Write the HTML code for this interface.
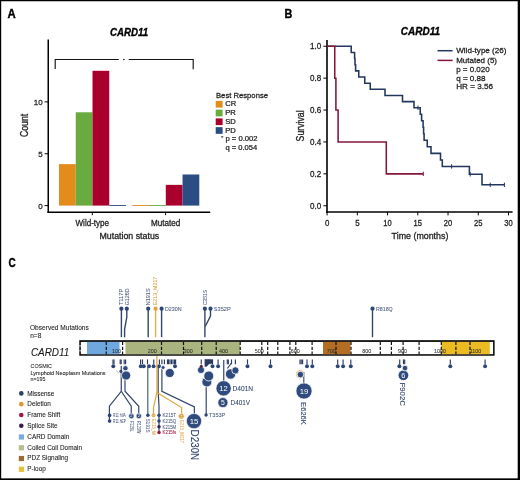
<!DOCTYPE html>
<html><head><meta charset="utf-8"><style>
html,body{margin:0;padding:0;background:#fff;}
svg{display:block;font-family:"Liberation Sans",sans-serif;will-change:transform;}
</style></head><body>
<svg width="520" height="480" viewBox="0 0 520 480">
<rect x="0" y="0" width="520" height="480" fill="#000"/>
<rect x="1.2" y="1.25" width="516.5" height="477.1" fill="#fff"/>
<text x="7.5" y="17.6" font-size="12" font-weight="bold" font-style="normal" fill="#000" text-anchor="start" stroke="#000" stroke-width="0.384" textLength="8.2" lengthAdjust="spacingAndGlyphs">A</text>
<text x="110" y="35.6" font-size="10.2" font-weight="bold" font-style="italic" fill="#000" text-anchor="start" stroke="#000" stroke-width="0.326" textLength="38.2" lengthAdjust="spacingAndGlyphs">CARD11</text>
<line x1="48.25" y1="39.5" x2="48.25" y2="213.0" stroke="#000" stroke-width="1.5" />
<line x1="47.5" y1="212.2" x2="210.2" y2="212.2" stroke="#000" stroke-width="1.5" />
<line x1="44.6" y1="205.6" x2="48.25" y2="205.6" stroke="#000" stroke-width="1.0" />
<text x="42.6" y="208.5" font-size="8" font-weight="normal" font-style="normal" fill="#222" text-anchor="end" stroke="#222" stroke-width="0.256">0</text>
<line x1="44.6" y1="153.75" x2="48.25" y2="153.75" stroke="#000" stroke-width="1.0" />
<text x="42.6" y="156.65" font-size="8" font-weight="normal" font-style="normal" fill="#222" text-anchor="end" stroke="#222" stroke-width="0.256">5</text>
<line x1="44.6" y1="101.9" x2="48.25" y2="101.9" stroke="#000" stroke-width="1.0" />
<text x="42.6" y="104.80000000000001" font-size="8" font-weight="normal" font-style="normal" fill="#222" text-anchor="end" stroke="#222" stroke-width="0.256">10</text>
<line x1="92.3" y1="212.2" x2="92.3" y2="215.2" stroke="#000" stroke-width="1.0" />
<line x1="165.6" y1="212.2" x2="165.6" y2="215.2" stroke="#000" stroke-width="1.0" />
<text x="92.3" y="226" font-size="8.8" font-weight="normal" font-style="normal" fill="#222" text-anchor="middle" stroke="#222" stroke-width="0.282" textLength="33.6" lengthAdjust="spacingAndGlyphs">Wild-type</text>
<text x="165.6" y="226" font-size="8.8" font-weight="normal" font-style="normal" fill="#222" text-anchor="middle" stroke="#222" stroke-width="0.282" textLength="29.4" lengthAdjust="spacingAndGlyphs">Mutated</text>
<text x="129.35" y="238.8" font-size="9.6" font-weight="normal" font-style="normal" fill="#222" text-anchor="middle" stroke="#222" stroke-width="0.307" textLength="59.7" lengthAdjust="spacingAndGlyphs">Mutation status</text>
<text transform="translate(27.6,125.4) rotate(-90)" x="0" y="0" font-size="10.2" font-weight="normal" font-style="normal" fill="#222" text-anchor="middle" stroke="#222" stroke-width="0.326" textLength="23.4" lengthAdjust="spacingAndGlyphs">Count</text>
<rect x="59.0" y="164.12" width="16.75" height="41.48" fill="#e38c1c" />
<rect x="75.75" y="112.27" width="16.75" height="93.33" fill="#6aab3f" />
<rect x="92.5" y="70.78999999999999" width="16.75" height="134.81" fill="#a9002d" />
<rect x="109.25" y="205.0" width="16.75" height="0.9" fill="#2c4c84" />
<rect x="132.3" y="205.0" width="16.75" height="0.9" fill="#e38c1c" />
<rect x="149.05" y="205.0" width="16.75" height="0.9" fill="#6aab3f" />
<rect x="165.8" y="184.85999999999999" width="16.75" height="20.74" fill="#a9002d" />
<rect x="182.55" y="174.49" width="16.75" height="31.11" fill="#2c4c84" />
<path d="M55.2,69 V59.5 H118.8 M128.7,59.5 H193.2 V69.3" stroke="#111" stroke-width="1.15" fill="none" />
<circle cx="123.9" cy="59.4" r="0.75" fill="#000"/>
<text x="216" y="98.2" font-size="8" font-weight="normal" font-style="normal" fill="#222" text-anchor="start" stroke="#222" stroke-width="0.256" textLength="52" lengthAdjust="spacingAndGlyphs">Best Response</text>
<rect x="215.7" y="100.9" width="6.9" height="6.7" fill="#e38c1c" />
<text x="225.3" y="106.30000000000001" font-size="7.6" font-weight="normal" font-style="normal" fill="#222" text-anchor="start" stroke="#222" stroke-width="0.243">CR</text>
<rect x="215.7" y="109.65" width="6.9" height="6.7" fill="#6aab3f" />
<text x="225.3" y="115.05000000000001" font-size="7.6" font-weight="normal" font-style="normal" fill="#222" text-anchor="start" stroke="#222" stroke-width="0.243">PR</text>
<rect x="215.7" y="118.4" width="6.9" height="6.7" fill="#a9002d" />
<text x="225.3" y="123.80000000000001" font-size="7.6" font-weight="normal" font-style="normal" fill="#222" text-anchor="start" stroke="#222" stroke-width="0.243">SD</text>
<rect x="215.7" y="127.15" width="6.9" height="6.7" fill="#2c4c84" />
<text x="225.3" y="132.55" font-size="7.6" font-weight="normal" font-style="normal" fill="#222" text-anchor="start" stroke="#222" stroke-width="0.243">PD</text>
<text x="221.0" y="140.0" font-size="6" font-weight="normal" font-style="normal" fill="#222" text-anchor="start" stroke="#222" stroke-width="0.072">*</text>
<text x="225.4" y="140.6" font-size="7.6" font-weight="normal" font-style="normal" fill="#222" text-anchor="start" stroke="#222" stroke-width="0.243" textLength="32.2" lengthAdjust="spacingAndGlyphs">p = 0.002</text>
<text x="225.4" y="149.5" font-size="7.6" font-weight="normal" font-style="normal" fill="#222" text-anchor="start" stroke="#222" stroke-width="0.243" textLength="31.7" lengthAdjust="spacingAndGlyphs">q = 0.054</text>
<text x="284.4" y="17.6" font-size="12" font-weight="bold" font-style="normal" fill="#000" text-anchor="start" stroke="#000" stroke-width="0.384" textLength="7.8" lengthAdjust="spacingAndGlyphs">B</text>
<text x="400.8" y="35.3" font-size="10.2" font-weight="bold" font-style="italic" fill="#000" text-anchor="start" stroke="#000" stroke-width="0.326" textLength="39.2" lengthAdjust="spacingAndGlyphs">CARD11</text>
<line x1="327.0" y1="40.0" x2="327.0" y2="212.9" stroke="#000" stroke-width="1.6" />
<line x1="326.2" y1="212.1" x2="512.6" y2="212.1" stroke="#000" stroke-width="1.5" />
<line x1="323.4" y1="205.75" x2="327" y2="205.75" stroke="#000" stroke-width="1.0" />
<text x="321.3" y="208.85" font-size="8.6" font-weight="normal" font-style="normal" fill="#222" text-anchor="end" stroke="#222" stroke-width="0.275" textLength="11.2" lengthAdjust="spacingAndGlyphs">0.0</text>
<line x1="323.4" y1="173.85" x2="327" y2="173.85" stroke="#000" stroke-width="1.0" />
<text x="321.3" y="176.95" font-size="8.6" font-weight="normal" font-style="normal" fill="#222" text-anchor="end" stroke="#222" stroke-width="0.275" textLength="11.2" lengthAdjust="spacingAndGlyphs">0.2</text>
<line x1="323.4" y1="141.95" x2="327" y2="141.95" stroke="#000" stroke-width="1.0" />
<text x="321.3" y="145.04999999999998" font-size="8.6" font-weight="normal" font-style="normal" fill="#222" text-anchor="end" stroke="#222" stroke-width="0.275" textLength="11.2" lengthAdjust="spacingAndGlyphs">0.4</text>
<line x1="323.4" y1="110.04999999999998" x2="327" y2="110.04999999999998" stroke="#000" stroke-width="1.0" />
<text x="321.3" y="113.14999999999998" font-size="8.6" font-weight="normal" font-style="normal" fill="#222" text-anchor="end" stroke="#222" stroke-width="0.275" textLength="11.2" lengthAdjust="spacingAndGlyphs">0.6</text>
<line x1="323.4" y1="78.14999999999999" x2="327" y2="78.14999999999999" stroke="#000" stroke-width="1.0" />
<text x="321.3" y="81.24999999999999" font-size="8.6" font-weight="normal" font-style="normal" fill="#222" text-anchor="end" stroke="#222" stroke-width="0.275" textLength="11.2" lengthAdjust="spacingAndGlyphs">0.8</text>
<line x1="323.4" y1="46.25" x2="327" y2="46.25" stroke="#000" stroke-width="1.0" />
<text x="321.3" y="49.35" font-size="8.6" font-weight="normal" font-style="normal" fill="#222" text-anchor="end" stroke="#222" stroke-width="0.275" textLength="11.2" lengthAdjust="spacingAndGlyphs">1.0</text>
<line x1="327.1" y1="212.1" x2="327.1" y2="215.4" stroke="#000" stroke-width="1.0" />
<text x="327.1" y="225.9" font-size="8.6" font-weight="normal" font-style="normal" fill="#222" text-anchor="middle" stroke="#222" stroke-width="0.275" textLength="4.4" lengthAdjust="spacingAndGlyphs">0</text>
<line x1="357.33500000000004" y1="212.1" x2="357.33500000000004" y2="215.4" stroke="#000" stroke-width="1.0" />
<text x="357.33500000000004" y="225.9" font-size="8.6" font-weight="normal" font-style="normal" fill="#222" text-anchor="middle" stroke="#222" stroke-width="0.275" textLength="4.4" lengthAdjust="spacingAndGlyphs">5</text>
<line x1="387.57000000000005" y1="212.1" x2="387.57000000000005" y2="215.4" stroke="#000" stroke-width="1.0" />
<text x="387.57000000000005" y="225.9" font-size="8.6" font-weight="normal" font-style="normal" fill="#222" text-anchor="middle" stroke="#222" stroke-width="0.275" textLength="8.4" lengthAdjust="spacingAndGlyphs">10</text>
<line x1="417.805" y1="212.1" x2="417.805" y2="215.4" stroke="#000" stroke-width="1.0" />
<text x="417.805" y="225.9" font-size="8.6" font-weight="normal" font-style="normal" fill="#222" text-anchor="middle" stroke="#222" stroke-width="0.275" textLength="8.4" lengthAdjust="spacingAndGlyphs">15</text>
<line x1="448.04" y1="212.1" x2="448.04" y2="215.4" stroke="#000" stroke-width="1.0" />
<text x="448.04" y="225.9" font-size="8.6" font-weight="normal" font-style="normal" fill="#222" text-anchor="middle" stroke="#222" stroke-width="0.275" textLength="8.4" lengthAdjust="spacingAndGlyphs">20</text>
<line x1="478.275" y1="212.1" x2="478.275" y2="215.4" stroke="#000" stroke-width="1.0" />
<text x="478.275" y="225.9" font-size="8.6" font-weight="normal" font-style="normal" fill="#222" text-anchor="middle" stroke="#222" stroke-width="0.275" textLength="8.4" lengthAdjust="spacingAndGlyphs">25</text>
<line x1="508.51" y1="212.1" x2="508.51" y2="215.4" stroke="#000" stroke-width="1.0" />
<text x="508.51" y="225.9" font-size="8.6" font-weight="normal" font-style="normal" fill="#222" text-anchor="middle" stroke="#222" stroke-width="0.275" textLength="8.4" lengthAdjust="spacingAndGlyphs">30</text>
<text x="420" y="238.8" font-size="9.8" font-weight="normal" font-style="normal" fill="#222" text-anchor="middle" stroke="#222" stroke-width="0.314" textLength="56.8" lengthAdjust="spacingAndGlyphs">Time (months)</text>
<text transform="translate(304,125.9) rotate(-90)" x="0" y="0" font-size="10.0" font-weight="normal" font-style="normal" fill="#222" text-anchor="middle" stroke="#222" stroke-width="0.320" textLength="31.0" lengthAdjust="spacingAndGlyphs">Survival</text>
<path d="M327.00,46.25 L351.25,46.25 L351.25,52.40 L354.60,52.40 L354.60,58.55 L355.00,58.55 L355.00,64.70 L355.60,64.70 L355.60,70.85 L358.75,70.85 L358.75,77.00 L364.75,77.00 L364.75,83.15 L370.25,83.15 L370.25,89.30 L385.00,89.30 L385.00,95.45 L402.50,95.45 L402.50,101.60 L414.00,101.60 L414.00,107.75 L420.25,107.75 L420.25,114.30 L421.60,114.30 L421.60,120.80 L423.10,120.80 L423.10,127.30 L423.60,127.30 L423.60,133.80 L424.10,133.80 L424.10,140.30 L427.25,140.30 L427.25,146.80 L431.00,146.80 L431.00,153.35 L440.50,153.35 L440.50,159.90 L442.30,159.90 L442.30,166.45 L469.40,166.45 L469.40,174.30 L482.00,174.30 L482.00,184.80 L504.40,184.80" stroke="#22365f" stroke-width="1.55" fill="none" stroke-linejoin="miter"/>
<line x1="418.0" y1="105.55" x2="418.0" y2="109.95" stroke="#22365f" stroke-width="1.0" />
<line x1="451.6" y1="164.25" x2="451.6" y2="168.64999999999998" stroke="#22365f" stroke-width="1.0" />
<line x1="470.2" y1="172.10000000000002" x2="470.2" y2="176.5" stroke="#22365f" stroke-width="1.0" />
<line x1="490.2" y1="182.60000000000002" x2="490.2" y2="187.0" stroke="#22365f" stroke-width="1.0" />
<line x1="504.4" y1="182.60000000000002" x2="504.4" y2="187.0" stroke="#22365f" stroke-width="1.0" />
<path d="M327.00,46.25 L334.75,46.25 L334.75,78.15 L335.90,78.15 L335.90,110.05 L338.10,110.05 L338.10,141.95 L386.30,141.95 L386.30,173.85 L423.30,173.85" stroke="#861638" stroke-width="1.55" fill="none" />
<line x1="423.3" y1="171.65" x2="423.3" y2="176.04999999999998" stroke="#861638" stroke-width="1.0" />
<line x1="437.5" y1="50.7" x2="452.6" y2="50.7" stroke="#22365f" stroke-width="1.5" />
<line x1="437.5" y1="60.4" x2="452.6" y2="60.4" stroke="#861638" stroke-width="1.5" />
<text x="456.2" y="53.3" font-size="8" font-weight="normal" font-style="normal" fill="#222" text-anchor="start" stroke="#222" stroke-width="0.256" textLength="50.3" lengthAdjust="spacingAndGlyphs">Wild-type (26)</text>
<text x="456.2" y="62.6" font-size="8" font-weight="normal" font-style="normal" fill="#222" text-anchor="start" stroke="#222" stroke-width="0.256" textLength="40.8" lengthAdjust="spacingAndGlyphs">Mutated (5)</text>
<text x="456.2" y="71.7" font-size="8" font-weight="normal" font-style="normal" fill="#222" text-anchor="start" stroke="#222" stroke-width="0.256" textLength="33.5" lengthAdjust="spacingAndGlyphs">p = 0.020</text>
<text x="456.2" y="80.6" font-size="8" font-weight="normal" font-style="normal" fill="#222" text-anchor="start" stroke="#222" stroke-width="0.256" textLength="29.4" lengthAdjust="spacingAndGlyphs">q = 0.88</text>
<text x="456.2" y="89.3" font-size="8" font-weight="normal" font-style="normal" fill="#222" text-anchor="start" stroke="#222" stroke-width="0.256" textLength="36.8" lengthAdjust="spacingAndGlyphs">HR = 3.56</text>
<text x="8.6" y="267.2" font-size="12" font-weight="bold" font-style="normal" fill="#000" text-anchor="start" stroke="#000" stroke-width="0.384" textLength="7.2" lengthAdjust="spacingAndGlyphs">C</text>
<text x="30" y="330" font-size="6.6" font-weight="normal" font-style="normal" fill="#222" text-anchor="start" stroke="#222" stroke-width="0.079" textLength="58.8" lengthAdjust="spacingAndGlyphs">Observed Mutations</text>
<text x="30.2" y="338" font-size="6.6" font-weight="normal" font-style="normal" fill="#222" text-anchor="start" stroke="#222" stroke-width="0.079">n=8</text>
<text x="30.9" y="355.9" font-size="10.6" font-weight="normal" font-style="italic" fill="#1a1a1a" text-anchor="start" stroke="#1a1a1a" stroke-width="0.080" textLength="38.4" lengthAdjust="spacingAndGlyphs">CARD11</text>
<text x="30.5" y="368" font-size="5.3" font-weight="normal" font-style="normal" fill="#222" text-anchor="start" stroke="#222" stroke-width="0.064" textLength="21.5" lengthAdjust="spacingAndGlyphs">COSMIC</text>
<text x="30.5" y="374.9" font-size="5.5" font-weight="normal" font-style="normal" fill="#222" text-anchor="start" stroke="#222" stroke-width="0.066" textLength="75" lengthAdjust="spacingAndGlyphs">Lymphoid Neoplasm Mutations</text>
<text x="30.5" y="381" font-size="5.3" font-weight="normal" font-style="normal" fill="#222" text-anchor="start" stroke="#222" stroke-width="0.064" textLength="14.9" lengthAdjust="spacingAndGlyphs">n=195</text>
<circle cx="21.3" cy="393.4" r="2.3" fill="#2c3f6b"/>
<text x="27.3" y="395.7" font-size="6.4" font-weight="normal" font-style="normal" fill="#222" text-anchor="start" stroke="#222" stroke-width="0.077">Missense</text>
<circle cx="21.3" cy="404.16999999999996" r="2.3" fill="#e0982c"/>
<text x="27.3" y="406.46999999999997" font-size="6.4" font-weight="normal" font-style="normal" fill="#222" text-anchor="start" stroke="#222" stroke-width="0.077">Deletion</text>
<circle cx="21.3" cy="414.94" r="2.3" fill="#a0183f"/>
<text x="27.3" y="417.24" font-size="6.4" font-weight="normal" font-style="normal" fill="#222" text-anchor="start" stroke="#222" stroke-width="0.077">Frame Shift</text>
<circle cx="21.3" cy="425.71" r="2.3" fill="#3a1f48"/>
<text x="27.3" y="428.01" font-size="6.4" font-weight="normal" font-style="normal" fill="#222" text-anchor="start" stroke="#222" stroke-width="0.077">Splice Site</text>
<rect x="18.8" y="434.37999999999994" width="5.2" height="5.2" fill="#77acdf" />
<text x="27.3" y="438.78" font-size="6.4" font-weight="normal" font-style="normal" fill="#222" text-anchor="start" stroke="#222" stroke-width="0.077">CARD Domain</text>
<rect x="18.8" y="445.15" width="5.2" height="5.2" fill="#b6bd91" />
<text x="27.3" y="449.55" font-size="6.4" font-weight="normal" font-style="normal" fill="#222" text-anchor="start" stroke="#222" stroke-width="0.077">Coiled Coil Domain</text>
<rect x="18.8" y="455.91999999999996" width="5.2" height="5.2" fill="#9b6c2d" />
<text x="27.3" y="460.32" font-size="6.4" font-weight="normal" font-style="normal" fill="#222" text-anchor="start" stroke="#222" stroke-width="0.077">PDZ Signaling</text>
<rect x="18.8" y="466.68999999999994" width="5.2" height="5.2" fill="#e6c23a" />
<text x="27.3" y="471.09" font-size="6.4" font-weight="normal" font-style="normal" fill="#222" text-anchor="start" stroke="#222" stroke-width="0.077">P-loop</text>
<rect x="79.3" y="340.2" width="415.3" height="15.5" fill="#000" />
<rect x="80.8" y="341.9" width="412.3" height="12.3" fill="#fff" />
<rect x="87.0" y="341.9" width="32.5" height="12.300000000000011" fill="#6ea8de" />
<rect x="125.5" y="341.9" width="114.7" height="12.300000000000011" fill="#a9b47e" />
<rect x="323.0" y="341.9" width="27.5" height="12.300000000000011" fill="#b36e24" />
<rect x="441.2" y="341.9" width="48.6" height="12.300000000000011" fill="#ecba22" />
<line x1="80.05" y1="341.9" x2="80.05" y2="354.2" stroke="#fff" stroke-width="1.0" stroke-dasharray="1.6 3.2" stroke-dashoffset="-3.2"/>
<line x1="106.25" y1="341.9" x2="106.25" y2="354.2" stroke="#111" stroke-width="1.2" stroke-dasharray="3.2 1.6"/>
<line x1="122.6" y1="341.9" x2="122.6" y2="354.2" stroke="#111" stroke-width="1.2" stroke-dasharray="3.2 1.6"/>
<line x1="161.5" y1="341.9" x2="161.5" y2="354.2" stroke="#111" stroke-width="1.2" stroke-dasharray="3.2 1.6"/>
<line x1="183.5" y1="341.9" x2="183.5" y2="354.2" stroke="#111" stroke-width="1.2" stroke-dasharray="3.2 1.6"/>
<line x1="201.7" y1="341.9" x2="201.7" y2="354.2" stroke="#111" stroke-width="1.2" stroke-dasharray="3.2 1.6"/>
<line x1="216.2" y1="341.9" x2="216.2" y2="354.2" stroke="#111" stroke-width="1.2" stroke-dasharray="3.2 1.6"/>
<line x1="240.2" y1="341.9" x2="240.2" y2="354.2" stroke="#111" stroke-width="1.2" stroke-dasharray="3.2 1.6"/>
<line x1="261.8" y1="341.9" x2="261.8" y2="354.2" stroke="#111" stroke-width="1.2" stroke-dasharray="3.2 1.6"/>
<line x1="267.7" y1="341.9" x2="267.7" y2="354.2" stroke="#111" stroke-width="1.2" stroke-dasharray="3.2 1.6"/>
<line x1="277.8" y1="341.9" x2="277.8" y2="354.2" stroke="#111" stroke-width="1.2" stroke-dasharray="3.2 1.6"/>
<line x1="289.9" y1="341.9" x2="289.9" y2="354.2" stroke="#111" stroke-width="1.2" stroke-dasharray="3.2 1.6"/>
<line x1="295.8" y1="341.9" x2="295.8" y2="354.2" stroke="#111" stroke-width="1.2" stroke-dasharray="3.2 1.6"/>
<line x1="312.1" y1="341.9" x2="312.1" y2="354.2" stroke="#111" stroke-width="1.2" stroke-dasharray="3.2 1.6"/>
<line x1="336.0" y1="341.9" x2="336.0" y2="354.2" stroke="#111" stroke-width="1.2" stroke-dasharray="3.2 1.6"/>
<line x1="351.0" y1="341.9" x2="351.0" y2="354.2" stroke="#111" stroke-width="1.2" stroke-dasharray="3.2 1.6"/>
<line x1="380.3" y1="341.9" x2="380.3" y2="354.2" stroke="#111" stroke-width="1.2" stroke-dasharray="3.2 1.6"/>
<line x1="391.4" y1="341.9" x2="391.4" y2="354.2" stroke="#111" stroke-width="1.2" stroke-dasharray="3.2 1.6"/>
<line x1="403.1" y1="341.9" x2="403.1" y2="354.2" stroke="#111" stroke-width="1.2" stroke-dasharray="3.2 1.6"/>
<line x1="419.1" y1="341.9" x2="419.1" y2="354.2" stroke="#111" stroke-width="1.2" stroke-dasharray="3.2 1.6"/>
<line x1="441.3" y1="341.9" x2="441.3" y2="354.2" stroke="#111" stroke-width="1.2" stroke-dasharray="3.2 1.6"/>
<line x1="455.9" y1="341.9" x2="455.9" y2="354.2" stroke="#111" stroke-width="1.2" stroke-dasharray="3.2 1.6"/>
<line x1="470.0" y1="341.9" x2="470.0" y2="354.2" stroke="#111" stroke-width="1.2" stroke-dasharray="3.2 1.6"/>
<text x="116.4" y="352.8" font-size="5.4" font-weight="normal" font-style="normal" fill="#333" text-anchor="middle" stroke="#333" stroke-width="0.065">100</text>
<text x="152.3" y="352.8" font-size="5.4" font-weight="normal" font-style="normal" fill="#333" text-anchor="middle" stroke="#333" stroke-width="0.065">200</text>
<text x="188.2" y="352.8" font-size="5.4" font-weight="normal" font-style="normal" fill="#333" text-anchor="middle" stroke="#333" stroke-width="0.065">300</text>
<text x="223.5" y="352.8" font-size="5.4" font-weight="normal" font-style="normal" fill="#333" text-anchor="middle" stroke="#333" stroke-width="0.065">400</text>
<text x="259.3" y="352.8" font-size="5.4" font-weight="normal" font-style="normal" fill="#333" text-anchor="middle" stroke="#333" stroke-width="0.065">500</text>
<text x="295.2" y="352.8" font-size="5.4" font-weight="normal" font-style="normal" fill="#333" text-anchor="middle" stroke="#333" stroke-width="0.065">600</text>
<text x="331.3" y="352.8" font-size="5.4" font-weight="normal" font-style="normal" fill="#333" text-anchor="middle" stroke="#333" stroke-width="0.065">700</text>
<text x="366.8" y="352.8" font-size="5.4" font-weight="normal" font-style="normal" fill="#333" text-anchor="middle" stroke="#333" stroke-width="0.065">800</text>
<text x="402.6" y="352.8" font-size="5.4" font-weight="normal" font-style="normal" fill="#333" text-anchor="middle" stroke="#333" stroke-width="0.065">900</text>
<text x="439.9" y="352.8" font-size="5.4" font-weight="normal" font-style="normal" fill="#333" text-anchor="middle" stroke="#333" stroke-width="0.065">1000</text>
<text x="475.5" y="352.8" font-size="5.4" font-weight="normal" font-style="normal" fill="#333" text-anchor="middle" stroke="#333" stroke-width="0.065">1100</text>
<line x1="121.4" y1="308.7" x2="121.4" y2="337.2" stroke="#34466b" stroke-width="1.4" />
<circle cx="121.4" cy="308.7" r="2.1" fill="#2b4676"/>
<path d="M126.8,308.7 V317.3 L124.6,329 V337.2" stroke="#34466b" stroke-width="1.4" fill="none" />
<circle cx="126.8" cy="308.7" r="2.1" fill="#2b4676"/>
<line x1="148.2" y1="308.7" x2="148.2" y2="337.2" stroke="#34466b" stroke-width="1.4" />
<circle cx="148.2" cy="308.7" r="2.1" fill="#2b4676"/>
<line x1="155.6" y1="308.7" x2="155.6" y2="337.2" stroke="#e6ac48" stroke-width="1.4" />
<circle cx="155.6" cy="308.7" r="2.1" fill="#e0a040"/>
<line x1="161.6" y1="308.7" x2="161.6" y2="337.2" stroke="#34466b" stroke-width="1.4" />
<circle cx="161.6" cy="308.7" r="2.1" fill="#2b4676"/>
<line x1="204.9" y1="308.7" x2="204.9" y2="337.2" stroke="#34466b" stroke-width="1.4" />
<circle cx="204.9" cy="308.7" r="2.1" fill="#2b4676"/>
<path d="M210.5,308.7 V316 L205.2,326.5" stroke="#34466b" stroke-width="1.4" fill="none" />
<circle cx="210.5" cy="308.7" r="2.1" fill="#2b4676"/>
<line x1="372.5" y1="308.7" x2="372.5" y2="337.2" stroke="#34466b" stroke-width="1.4" />
<circle cx="372.5" cy="308.7" r="2.1" fill="#2b4676"/>
<text transform="translate(123.2,305.3) rotate(-90)" x="0" y="0" font-size="5.6" font-weight="normal" font-style="normal" fill="#4a5a7c" text-anchor="start" stroke="#4a5a7c" stroke-width="0.067" textLength="16.7" lengthAdjust="spacingAndGlyphs">T117P</text>
<text transform="translate(128.6,305.3) rotate(-90)" x="0" y="0" font-size="5.6" font-weight="normal" font-style="normal" fill="#4a5a7c" text-anchor="start" stroke="#4a5a7c" stroke-width="0.067" textLength="16.9" lengthAdjust="spacingAndGlyphs">G126D</text>
<text transform="translate(150.0,305.3) rotate(-90)" x="0" y="0" font-size="5.6" font-weight="normal" font-style="normal" fill="#4a5a7c" text-anchor="start" stroke="#4a5a7c" stroke-width="0.067" textLength="16.9" lengthAdjust="spacingAndGlyphs">N191S</text>
<text transform="translate(157.4,305.3) rotate(-90)" x="0" y="0" font-size="5.6" font-weight="normal" font-style="normal" fill="#d9a040" text-anchor="start" stroke="#d9a040" stroke-width="0.067" textLength="28.6" lengthAdjust="spacingAndGlyphs">E213_M217</text>
<text transform="translate(206.7,305.3) rotate(-90)" x="0" y="0" font-size="5.6" font-weight="normal" font-style="normal" fill="#4a5a7c" text-anchor="start" stroke="#4a5a7c" stroke-width="0.067" textLength="15.4" lengthAdjust="spacingAndGlyphs">C351S</text>
<text x="164.9" y="310.7" font-size="5.6" font-weight="normal" font-style="normal" fill="#4a5a7c" text-anchor="start" stroke="#4a5a7c" stroke-width="0.067" textLength="16.6" lengthAdjust="spacingAndGlyphs">D230N</text>
<text x="213.8" y="310.7" font-size="5.6" font-weight="normal" font-style="normal" fill="#4a5a7c" text-anchor="start" stroke="#4a5a7c" stroke-width="0.067" textLength="17.0" lengthAdjust="spacingAndGlyphs">S352P</text>
<text x="376.0" y="310.7" font-size="5.6" font-weight="normal" font-style="normal" fill="#4a5a7c" text-anchor="start" stroke="#4a5a7c" stroke-width="0.067" textLength="16.7" lengthAdjust="spacingAndGlyphs">R818Q</text>
<line x1="113.0" y1="359.4" x2="113.0" y2="364.2" stroke="#2b3a60" stroke-width="1.15" />
<line x1="114.0" y1="359.4" x2="114.0" y2="364.2" stroke="#2b3a60" stroke-width="1.15" />
<line x1="120.2" y1="359.4" x2="120.2" y2="364.2" stroke="#2b3a60" stroke-width="1.15" />
<line x1="121.2" y1="359.4" x2="121.2" y2="364.2" stroke="#2b3a60" stroke-width="1.15" />
<line x1="124.2" y1="359.4" x2="124.2" y2="364.2" stroke="#2b3a60" stroke-width="1.15" />
<line x1="125.6" y1="359.4" x2="125.6" y2="364.2" stroke="#2b3a60" stroke-width="1.15" />
<line x1="140.6" y1="359.4" x2="140.6" y2="364.2" stroke="#2b3a60" stroke-width="1.15" />
<line x1="142.5" y1="359.4" x2="142.5" y2="364.2" stroke="#2b3a60" stroke-width="1.15" />
<line x1="147.5" y1="359.4" x2="147.5" y2="364.2" stroke="#2b3a60" stroke-width="1.15" />
<line x1="153.75" y1="359.4" x2="153.75" y2="364.2" stroke="#2b3a60" stroke-width="1.15" />
<line x1="159.4" y1="359.4" x2="159.4" y2="364.2" stroke="#2b3a60" stroke-width="1.15" />
<line x1="161.9" y1="359.4" x2="161.9" y2="364.2" stroke="#2b3a60" stroke-width="1.15" />
<line x1="164.4" y1="359.4" x2="164.4" y2="364.2" stroke="#2b3a60" stroke-width="1.15" />
<line x1="167.5" y1="359.4" x2="167.5" y2="364.2" stroke="#2b3a60" stroke-width="1.15" />
<line x1="168.5" y1="359.4" x2="168.5" y2="364.2" stroke="#2b3a60" stroke-width="1.15" />
<line x1="170.0" y1="359.4" x2="170.0" y2="364.2" stroke="#2b3a60" stroke-width="1.15" />
<line x1="171.5" y1="359.4" x2="171.5" y2="364.2" stroke="#2b3a60" stroke-width="1.15" />
<line x1="173.0" y1="359.4" x2="173.0" y2="364.2" stroke="#2b3a60" stroke-width="1.15" />
<line x1="174.5" y1="359.4" x2="174.5" y2="364.2" stroke="#2b3a60" stroke-width="1.15" />
<line x1="175.6" y1="359.4" x2="175.6" y2="364.2" stroke="#2b3a60" stroke-width="1.15" />
<line x1="201.25" y1="359.4" x2="201.25" y2="364.2" stroke="#2b3a60" stroke-width="1.15" />
<line x1="205.5" y1="359.4" x2="205.5" y2="364.2" stroke="#2b3a60" stroke-width="1.15" />
<line x1="207.0" y1="359.4" x2="207.0" y2="364.2" stroke="#2b3a60" stroke-width="1.15" />
<line x1="208.5" y1="359.4" x2="208.5" y2="364.2" stroke="#2b3a60" stroke-width="1.15" />
<line x1="210.0" y1="359.4" x2="210.0" y2="364.2" stroke="#2b3a60" stroke-width="1.15" />
<line x1="212.5" y1="359.4" x2="212.5" y2="364.2" stroke="#2b3a60" stroke-width="1.15" />
<line x1="218.1" y1="359.4" x2="218.1" y2="364.2" stroke="#2b3a60" stroke-width="1.15" />
<line x1="227.3" y1="359.4" x2="227.3" y2="364.2" stroke="#2b3a60" stroke-width="1.15" />
<line x1="228.3" y1="359.4" x2="228.3" y2="364.2" stroke="#2b3a60" stroke-width="1.15" />
<line x1="231.5" y1="359.4" x2="231.5" y2="364.2" stroke="#2b3a60" stroke-width="1.15" />
<line x1="235.4" y1="359.4" x2="235.4" y2="364.2" stroke="#2b3a60" stroke-width="1.15" />
<line x1="247.5" y1="359.4" x2="247.5" y2="364.2" stroke="#2b3a60" stroke-width="1.15" />
<line x1="270.5" y1="359.4" x2="270.5" y2="364.2" stroke="#2b3a60" stroke-width="1.15" />
<line x1="300.0" y1="359.4" x2="300.0" y2="364.2" stroke="#2b3a60" stroke-width="1.15" />
<line x1="301.2" y1="359.4" x2="301.2" y2="364.2" stroke="#2b3a60" stroke-width="1.15" />
<line x1="302.6" y1="359.4" x2="302.6" y2="364.2" stroke="#2b3a60" stroke-width="1.15" />
<line x1="307.0" y1="359.4" x2="307.0" y2="364.2" stroke="#2b3a60" stroke-width="1.15" />
<line x1="312.3" y1="359.4" x2="312.3" y2="364.2" stroke="#2b3a60" stroke-width="1.15" />
<line x1="337.7" y1="359.4" x2="337.7" y2="364.2" stroke="#2b3a60" stroke-width="1.15" />
<line x1="343.1" y1="359.4" x2="343.1" y2="364.2" stroke="#2b3a60" stroke-width="1.15" />
<line x1="350.8" y1="359.4" x2="350.8" y2="364.2" stroke="#2b3a60" stroke-width="1.15" />
<line x1="399.7" y1="359.4" x2="399.7" y2="364.2" stroke="#2b3a60" stroke-width="1.15" />
<line x1="403.5" y1="359.4" x2="403.5" y2="364.2" stroke="#2b3a60" stroke-width="1.15" />
<line x1="404.7" y1="359.4" x2="404.7" y2="364.2" stroke="#2b3a60" stroke-width="1.15" />
<line x1="450.3" y1="359.4" x2="450.3" y2="364.2" stroke="#2b3a60" stroke-width="1.15" />
<line x1="485.1" y1="359.4" x2="485.1" y2="364.2" stroke="#2b3a60" stroke-width="1.15" />
<circle cx="113.3" cy="366.2" r="1.95" fill="#2b4676"/>
<circle cx="140.8" cy="366.2" r="1.95" fill="#2b4676"/>
<circle cx="143.8" cy="366.2" r="1.95" fill="#2b4676"/>
<circle cx="149.0" cy="366.2" r="1.95" fill="#2b4676"/>
<circle cx="153.6" cy="366.2" r="1.95" fill="#2b4676"/>
<circle cx="159.0" cy="366.2" r="1.95" fill="#2b4676"/>
<circle cx="175.0" cy="366.2" r="1.95" fill="#2b4676"/>
<circle cx="212.5" cy="366.2" r="1.95" fill="#2b4676"/>
<circle cx="218.1" cy="366.2" r="1.95" fill="#2b4676"/>
<circle cx="247.5" cy="366.2" r="1.95" fill="#2b4676"/>
<circle cx="270.5" cy="366.2" r="1.95" fill="#2b4676"/>
<circle cx="307.0" cy="366.2" r="1.95" fill="#2b4676"/>
<circle cx="312.3" cy="366.2" r="1.95" fill="#2b4676"/>
<circle cx="337.7" cy="366.2" r="1.95" fill="#2b4676"/>
<circle cx="343.1" cy="366.2" r="1.95" fill="#2b4676"/>
<circle cx="350.8" cy="366.2" r="1.95" fill="#2b4676"/>
<circle cx="399.4" cy="366.2" r="1.95" fill="#2b4676"/>
<circle cx="450.3" cy="366.2" r="1.95" fill="#2b4676"/>
<circle cx="485.1" cy="366.2" r="1.95" fill="#2b4676"/>
<path d="M121.25,366 V391.25 L109.4,406.25 V421.1" stroke="#34466b" stroke-width="1.2" fill="none" />
<path d="M121.25,391.25 L131.25,406.25 V416" stroke="#34466b" stroke-width="1.2" fill="none" />
<path d="M125.0,376 V391.25 L138.75,406.25 V416" stroke="#34466b" stroke-width="1.2" fill="none" />
<line x1="147.8" y1="366" x2="147.8" y2="415.3" stroke="#4a5f82" stroke-width="1.2" />
<path d="M158.2,366 V392 L159.0,406 V432" stroke="#34466b" stroke-width="1.2" fill="none" />
<path d="M161.9,368 V391.25 L194.4,407 V414" stroke="#34466b" stroke-width="1.2" fill="none" />
<path d="M156.9,356 V392.5 L153.5,407.5 V415" stroke="#e3a444" stroke-width="1.2" fill="none" />
<path d="M156.9,392.5 L181.6,407.5 V415" stroke="#e3a444" stroke-width="1.2" fill="none" />
<line x1="206.2" y1="384" x2="206.2" y2="415" stroke="#34466b" stroke-width="1.2" />
<line x1="223.75" y1="360" x2="223.75" y2="382" stroke="#34466b" stroke-width="1.2" />
<path d="M204.8,359.4 H212.2 V363.5 H209.2 L206.8,366.5 H204.8 Z" stroke="#2b3a60" stroke-width="0.3" fill="#2b3a60" />
<line x1="303.8" y1="372" x2="303.8" y2="384" stroke="#34466b" stroke-width="1.1" />
<line x1="116.4" y1="370.3" x2="119.0" y2="373.6" stroke="#9aa3b5" stroke-width="0.7" />
<path d="M231.5,363 L227.3,368.5" stroke="#2b3a60" stroke-width="1.2" fill="none" />
<circle cx="120.9" cy="371.2" r="1.5" fill="#2b4676"/>
<circle cx="125.4" cy="368.3" r="2.7" fill="#2f4a7c" stroke="#fff" stroke-width="0.8"/>
<circle cx="126.1" cy="375.5" r="4.6" fill="#2f4a7c" stroke="#fff" stroke-width="0.8"/>
<circle cx="163.1" cy="367.5" r="2.0" fill="#2f4a7c" stroke="#fff" stroke-width="0.8"/>
<circle cx="169.75" cy="373.0" r="4.6" fill="#2f4a7c" stroke="#fff" stroke-width="0.8"/>
<circle cx="201.0" cy="370.0" r="3.6" fill="#2f4a7c" stroke="#fff" stroke-width="0.8"/>
<circle cx="201.25" cy="366.2" r="1.5" fill="#5a1f40"/>
<circle cx="206.9" cy="381.9" r="5.0" fill="#2f4a7c" stroke="#fff" stroke-width="0.8"/>
<circle cx="208.75" cy="376.0" r="5.0" fill="#2f4a7c" stroke="#fff" stroke-width="0.8"/>
<circle cx="230.6" cy="374.0" r="5.2" fill="#2f4a7c" stroke="#fff" stroke-width="0.8"/>
<circle cx="235.4" cy="370.4" r="3.6" fill="#2f4a7c" stroke="#fff" stroke-width="0.8"/>
<circle cx="300.0" cy="374.2" r="3.8" fill="none" stroke="#e8b860" stroke-width="0.8"/>
<circle cx="300.4" cy="374.6" r="3.3" fill="#2f4a7c" stroke="#fff" stroke-width="0.8"/>
<circle cx="403.4" cy="375.3" r="5.3" fill="#2f4a7c" stroke="#fff" stroke-width="0.8"/>
<circle cx="405.0" cy="368.1" r="2.8" fill="#2f4a7c" stroke="#fff" stroke-width="0.8"/>
<circle cx="399.4" cy="366.2" r="1.6" fill="#2b4676"/>
<circle cx="223.6" cy="388.3" r="7.6" fill="#2f4a7c" stroke="#fff" stroke-width="0.6"/>
<text x="223.6" y="391.036" font-size="7.6" font-weight="normal" font-style="normal" fill="#fff" text-anchor="middle">12</text>
<circle cx="222.9" cy="402.6" r="5.0" fill="#2f4a7c" stroke="#fff" stroke-width="0.6"/>
<text x="222.9" y="405.048" font-size="6.8" font-weight="normal" font-style="normal" fill="#fff" text-anchor="middle">5</text>
<circle cx="194.0" cy="421.1" r="7.6" fill="#2f4a7c" stroke="#fff" stroke-width="0.6"/>
<text x="194.0" y="423.908" font-size="7.8" font-weight="normal" font-style="normal" fill="#fff" text-anchor="middle">15</text>
<circle cx="304.0" cy="391.0" r="8.0" fill="#2f4a7c" stroke="#fff" stroke-width="0.6"/>
<text x="304.0" y="393.808" font-size="7.8" font-weight="normal" font-style="normal" fill="#fff" text-anchor="middle">19</text>
<text x="403.4" y="377.9" font-size="7.4" font-weight="normal" font-style="normal" fill="#fff" text-anchor="middle">6</text>
<text x="232.5" y="391.3" font-size="7.2" font-weight="normal" font-style="normal" fill="#34456e" text-anchor="start" stroke="#34456e" stroke-width="0.080" textLength="20.6" lengthAdjust="spacingAndGlyphs">D401N</text>
<text x="230.6" y="405.2" font-size="7.2" font-weight="normal" font-style="normal" fill="#34456e" text-anchor="start" stroke="#34456e" stroke-width="0.080" textLength="19.4" lengthAdjust="spacingAndGlyphs">D401V</text>
<text transform="translate(190.6,429.6) rotate(90)" x="0" y="0" font-size="11.6" font-weight="normal" font-style="normal" fill="#2c3f6b" text-anchor="start" stroke="#2c3f6b" stroke-width="0.100" textLength="30.6" lengthAdjust="spacingAndGlyphs">D230N</text>
<text transform="translate(301.2,402.2) rotate(90)" x="0" y="0" font-size="7.8" font-weight="normal" font-style="normal" fill="#34456e" text-anchor="start" stroke="#34456e" stroke-width="0.080" textLength="22.6" lengthAdjust="spacingAndGlyphs">E626K</text>
<text transform="translate(400.4,382.4) rotate(90)" x="0" y="0" font-size="8.0" font-weight="normal" font-style="normal" fill="#34456e" text-anchor="start" stroke="#34456e" stroke-width="0.080" textLength="23.6" lengthAdjust="spacingAndGlyphs">F902C</text>
<circle cx="206.1" cy="415.0" r="1.7" fill="#2b4676"/>
<text x="209.0" y="417.2" font-size="6.2" font-weight="normal" font-style="normal" fill="#4a5a7c" text-anchor="start" stroke="#4a5a7c" stroke-width="0.074" textLength="16.2" lengthAdjust="spacingAndGlyphs">T353P</text>
<circle cx="109.6" cy="415.4" r="1.8" fill="#2b4676"/>
<circle cx="109.6" cy="421.1" r="1.8" fill="#2b4676"/>
<text x="113.1" y="417.3" font-size="5.0" font-weight="normal" font-style="normal" fill="#4a5a7c" text-anchor="start" stroke="#4a5a7c" stroke-width="0.060" textLength="12.7" lengthAdjust="spacingAndGlyphs">R11 hVA</text>
<text x="113.1" y="423.0" font-size="5.0" font-weight="normal" font-style="normal" fill="#4a5a7c" text-anchor="start" stroke="#4a5a7c" stroke-width="0.060" textLength="12.7" lengthAdjust="spacingAndGlyphs">R11 hEP</text>
<circle cx="131.4" cy="416.0" r="2.7" fill="#2f4a7c" stroke="#fff" stroke-width="0.6"/>
<text x="131.4" y="417.44" font-size="4.0" font-weight="normal" font-style="normal" fill="#fff" text-anchor="middle">2</text>
<circle cx="138.8" cy="416.0" r="2.7" fill="#2f4a7c" stroke="#fff" stroke-width="0.6"/>
<text x="138.8" y="417.44" font-size="4.0" font-weight="normal" font-style="normal" fill="#fff" text-anchor="middle">2</text>
<text transform="translate(129.7,421.0) rotate(90)" x="0" y="0" font-size="4.6" font-weight="normal" font-style="normal" fill="#4a5a7c" text-anchor="start" stroke="#4a5a7c" stroke-width="0.055" textLength="10.5" lengthAdjust="spacingAndGlyphs">F115L</text>
<text transform="translate(137.1,421.0) rotate(90)" x="0" y="0" font-size="4.6" font-weight="normal" font-style="normal" fill="#4a5a7c" text-anchor="start" stroke="#4a5a7c" stroke-width="0.055" textLength="12.5" lengthAdjust="spacingAndGlyphs">R123W</text>
<circle cx="147.9" cy="415.3" r="1.8" fill="#2b4676"/>
<text transform="translate(146.2,418.8) rotate(90)" x="0" y="0" font-size="4.6" font-weight="normal" font-style="normal" fill="#4a5a7c" text-anchor="start" stroke="#4a5a7c" stroke-width="0.055" textLength="13.7" lengthAdjust="spacingAndGlyphs">S191S</text>
<circle cx="153.5" cy="415.3" r="1.6" fill="#f0c070" stroke="#e09a2c" stroke-width="0.8"/>
<text transform="translate(151.8,418.8) rotate(90)" x="0" y="0" font-size="4.6" font-weight="normal" font-style="normal" fill="#e3ad5a" text-anchor="start" stroke="#e3ad5a" stroke-width="0.055" textLength="15.6" lengthAdjust="spacingAndGlyphs">E213_M</text>
<circle cx="159.0" cy="415.25" r="1.75" fill="#2b4676"/>
<circle cx="159.0" cy="421.0" r="1.75" fill="#2b4676"/>
<circle cx="159.0" cy="426.75" r="1.75" fill="#3a2250"/>
<circle cx="159.0" cy="432.5" r="1.75" fill="#a0183f"/>
<text x="162.5" y="417.2" font-size="4.8" font-weight="normal" font-style="normal" fill="#4a5a7c" text-anchor="start" stroke="#4a5a7c" stroke-width="0.058" textLength="13.7" lengthAdjust="spacingAndGlyphs">K215T</text>
<text x="162.5" y="422.95" font-size="4.8" font-weight="normal" font-style="normal" fill="#4a5a7c" text-anchor="start" stroke="#4a5a7c" stroke-width="0.058" textLength="13.7" lengthAdjust="spacingAndGlyphs">K215Q</text>
<text x="162.5" y="428.7" font-size="4.8" font-weight="normal" font-style="normal" fill="#4a5a7c" text-anchor="start" stroke="#4a5a7c" stroke-width="0.058" textLength="13.7" lengthAdjust="spacingAndGlyphs">K215M</text>
<text x="162.5" y="434.45" font-size="4.8" font-weight="normal" font-style="normal" fill="#a0183f" text-anchor="start" stroke="#a0183f" stroke-width="0.058" textLength="13.7" lengthAdjust="spacingAndGlyphs">K215fs</text>
<circle cx="181.3" cy="416.3" r="2.8" fill="#e09a2c" stroke="#fff" stroke-width="0.6"/>
<text x="181.3" y="417.74" font-size="4.0" font-weight="normal" font-style="normal" fill="#fff" text-anchor="middle">2</text>
<text transform="translate(179.6,420.0) rotate(90)" x="0" y="0" font-size="4.6" font-weight="normal" font-style="normal" fill="#e3ad5a" text-anchor="start" stroke="#e3ad5a" stroke-width="0.055" textLength="23" lengthAdjust="spacingAndGlyphs">E213_M217</text>
</svg>
</body></html>
